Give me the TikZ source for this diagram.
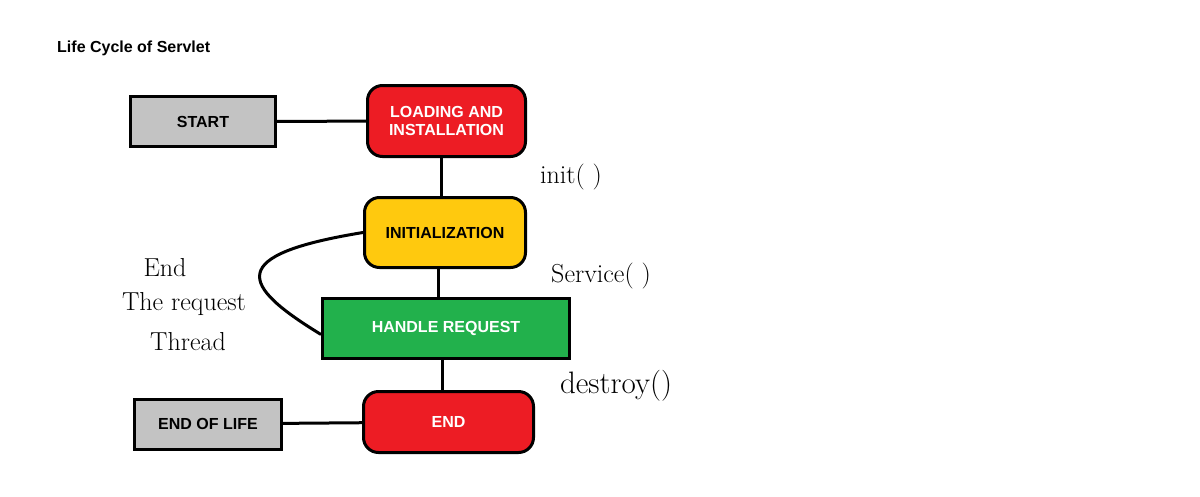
\documentclass[tikz,border=0pt]{standalone}
\usepackage{fontspec}
\newfontfamily\boxfont{Liberation Sans}
\definecolor{boxred}{HTML}{ED1C24}
\definecolor{boxyellow}{HTML}{FFC90E}
\definecolor{boxgreen}{HTML}{22B14C}
\definecolor{boxgray}{HTML}{C3C3C3}
\begin{document}
\begin{tikzpicture}[x=1pt, y=-1pt,
    stage/.style={draw, line width=3pt, inner sep=2pt, align=center,
      font=\boxfont\fontsize{16}{18}\selectfont\bfseries},
    endpoint/.style={stage, fill=boxgray, minimum width=145pt, minimum height=50pt},
    hand/.style={font=\fontsize{26}{28}\selectfont, inner sep=0pt}]
    \useasboundingbox (0,0) rectangle (1200,496);
    \node [anchor=west, font=\boxfont\fontsize{16}{18}\selectfont\bfseries,
      inner sep=0pt] (title) at (57,48) {Life Cycle of Servlet};
    \begin{scope}[every node/.style={stage}]
      \node [endpoint] (start) at (203,121.5) {START}; \node
      [fill=boxred, text=white, rounded corners=15pt, minimum
      width=158pt, minimum height=71pt] (load) at (446.5,121)
      {LOADING AND\\INSTALLATION}; \node [fill=boxyellow, rounded
      corners=15pt, minimum width=161pt, minimum height=70pt] (init)
      at (445,232.5) {INITIALIZATION}; \node [fill=boxgreen,
      text=white, minimum width=247pt, minimum height=60pt] (hr) at
      (446,328.5) {HANDLE REQUEST}; \node [fill=boxred, text=white,
      rounded corners=15pt, minimum width=170pt, minimum height=61pt]
      (end) at (448.5,422) {END}; \node [endpoint, minimum
      width=147pt] (eol) at (208,424) {END OF LIFE};
    \end{scope}
    \begin{scope}[every node/.style={hand}]
      \node (initcall) at (571,177) {init( )}; \node (servicecall) at
      (601,276) {Service( )}; \node [font=\fontsize{31}{33}\selectfont]
      (destroycall) at (616,386) {destroy()}; \node (endreq) at
      (165,268) {End}; \node (thereq) at (184,304) {The request};
      \node (thread) at (188,342) {Thread};
    \end{scope}
    \begin{scope}[line width=3pt]
      \draw (start) -- (load); \draw ([xshift=-5pt]load.south) --
      ([xshift=-5pt]load.south |- init.north); \draw
      ([xshift=-7pt]init.south) -- ([xshift=-7pt]init.south |-
      hr.north); \draw ([xshift=-4pt]hr.south) --
      ([xshift=-4pt]hr.south |- end.north); \draw (eol) -- (end);
      \draw (init.west) .. controls (225,255) and (240,285) ..
      ([yshift=-6pt]hr.west);
    \end{scope}
  \end{tikzpicture}
\end{document}
